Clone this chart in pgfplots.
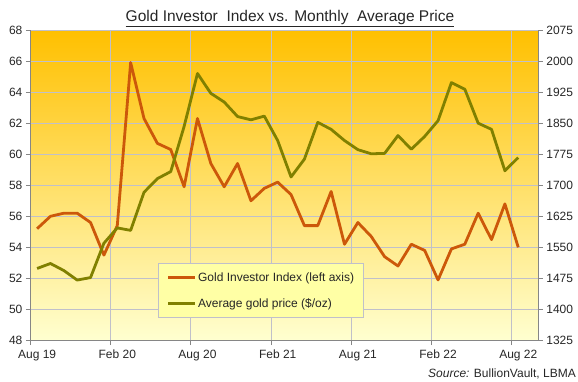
\documentclass[border=0pt]{standalone}
\usepackage{pgfplots}
\pgfplotsset{compat=1.18}
\usepackage{fontspec}
\setmainfont{Liberation Sans}
\definecolor{gii}{RGB}{204,88,10}
\definecolor{goldp}{RGB}{128,128,0}
\definecolor{gridc}{RGB}{192,192,202}
\definecolor{axc}{RGB}{134,134,134}
\definecolor{bgtop}{RGB}{255,192,0}
\definecolor{bgmid}{RGB}{255,253,98}
\definecolor{bgbot}{RGB}{255,255,208}
\pgfplotstableread{
x gii
0.5 55.2
1.5 56.0
2.5 56.2
3.5 56.2
4.5 55.6
5.5 53.5
6.5 55.4
7.5 65.9
8.5 62.3
9.5 60.7
10.5 60.3
11.5 57.9
12.5 62.3
13.5 59.4
14.5 57.9
15.5 59.4
16.5 57.0
17.5 57.8
18.5 58.2
19.5 57.4
20.5 55.4
21.5 55.4
22.5 57.6
23.5 54.2
24.5 55.6
25.5 54.7
26.5 53.4
27.5 52.8
28.5 54.2
29.5 53.8
30.5 51.9
31.5 53.9
32.5 54.2
33.5 56.2
34.5 54.5
35.5 56.8
36.5 54.0
}\giitable
\pgfplotstableread{
x price
0.5 1499
1.5 1511
2.5 1494
3.5 1471
4.5 1477
5.5 1560
6.5 1597
7.5 1591
8.5 1683
9.5 1716
10.5 1733
11.5 1842
12.5 1970
13.5 1922
14.5 1901
15.5 1866
16.5 1858
17.5 1867
18.5 1808
19.5 1720
20.5 1763
21.5 1852
22.5 1835
23.5 1808
24.5 1786
25.5 1776
26.5 1777
27.5 1820
28.5 1787
29.5 1818
30.5 1856
31.5 1948
32.5 1932
33.5 1850
34.5 1835
35.5 1735
36.5 1767
}\pricetable
\begin{document}
\begin{tikzpicture}
\path[use as bounding box] (0,0) rectangle (578pt,381pt);
\pgfplotsset{
  common/.style={
    at={(30.4pt,40.5pt)}, anchor=south west, scale only axis,
    width=507.9pt, height=310.5pt, xmin=0, xmax=38,
    axis line style={axc, line width=0.8pt, -},
    tick style={axc, line width=0.8pt},
    tick align=outside, major tick length=4.5pt,
    ticklabel style={font=\fontsize{12}{14}\selectfont, text=black!85},
    /pgf/number format/assume math mode=true,
    /pgf/number format/1000 sep={},
  }
}
\begin{axis}[common,
  ymin=48, ymax=68, ytick={48,50,...,68},
  xtick={0,6,...,36},
  xticklabels={Aug 19,Feb 20,Aug 20,Feb 21,Aug 21,Feb 22,Aug 22},
  xticklabel style={xshift=6.7pt, yshift=-1.5pt},
  axis x line*=bottom, axis y line*=left,
  grid=major, grid style={gridc, line width=0.8pt},
  axis background/.style={top color=bgtop, middle color=bgmid, bottom color=bgbot},
]
\addplot[gii, line width=2.8pt, line join=round] table[x=x, y=gii] {\giitable};
\end{axis}
\begin{axis}[common,
  ymin=1325, ymax=2075, ytick={1325,1400,...,2075},
  axis y line*=right, axis x line=none,
  legend style={at={(rel axis cs:0.252,0.249)}, anchor=north west,
    draw=gridc, line width=0.8pt, fill={rgb,255:red,255;green,255;blue,165},
    inner xsep=8pt, inner ysep=7.5pt, row sep=12.5pt,
    nodes={inner sep=1.5pt, font=\fontsize{12}{14}\selectfont, text=black!85},
    cells={anchor=west}},
  legend image code/.code={\draw[#1] (0pt,0pt) -- (27pt,0pt);},
]
\addlegendimage{gii, line width=2.8pt}
\addlegendentry{Gold Investor Index (left axis)}
\addplot[goldp, line width=2.8pt, line join=round] table[x=x, y=price] {\pricetable};
\addlegendentry{Average gold price (\$/oz)}
\end{axis}
\node[anchor=base, font=\fontsize{15.5}{18}\selectfont, text=black!85] at (290pt,359pt) {\underline{Gold Investor\ \ Index vs. Monthly\ \ Average Price}};
\node[anchor=base east, font=\fontsize{12}{14}\selectfont, text=black!85, inner sep=0pt] at (576pt,3.5pt) {\textit{Source:} BullionVault, LBMA};
\end{tikzpicture}
\end{document}
